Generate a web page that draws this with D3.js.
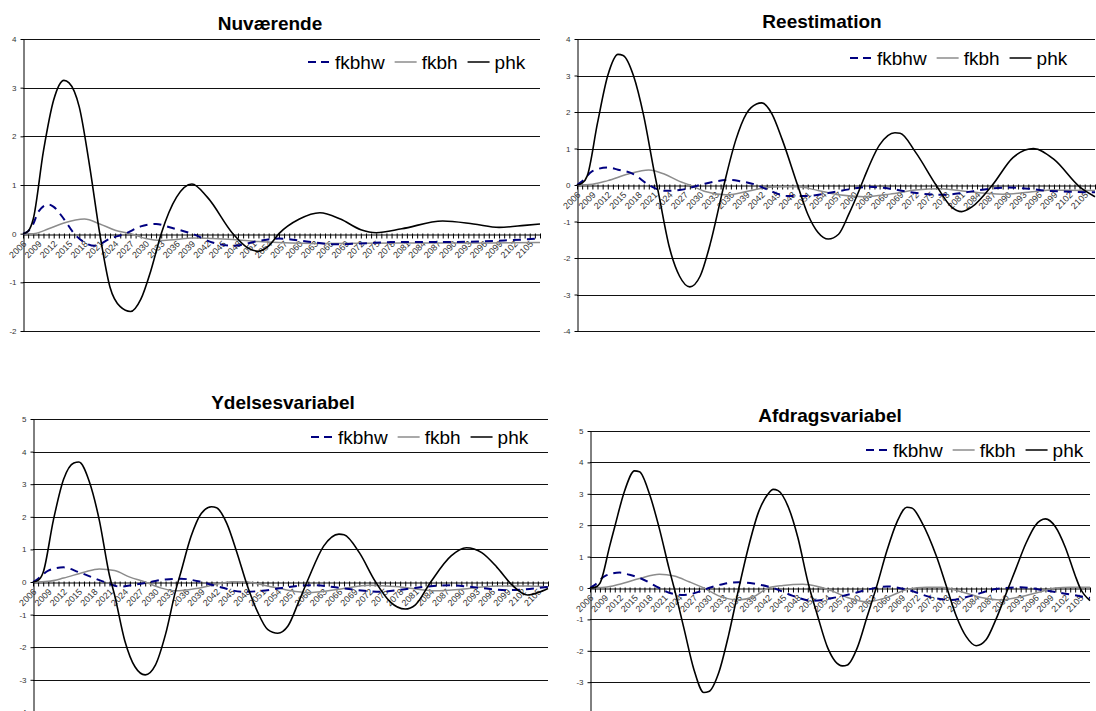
<!DOCTYPE html>
<html><head><meta charset="utf-8">
<script src="https://cdn.jsdelivr.net/npm/d3@7/dist/d3.min.js"></script>
<style>body{margin:0;background:#fff}svg{display:block}text{font-family:"Liberation Sans",Arial,sans-serif}</style>
</head><body><svg id="c" width="1096" height="711"></svg>
<script>
// ---------- data ----------
const years = d3.range(2006, 2108);              // annual categories
const tickLabels = d3.range(2006, 2106, 3);      // labelled every 3rd year
const seriesNames = ["fkbhw", "fkbh", "phk"];
const titles = ["Nuværende", "Reestimation", "Ydelsesvariabel", "Afdragsvariabel"];

// Nuværende
const nuv_phk = [[2006,0],[2007,0.05],[2008,0.3],[2010,1.7],[2012,2.75],[2014,3.15],[2015,3.1],[2017,2.6],[2019,1.4],[2021,0],[2023,-1.1],[2025,-1.5],[2027,-1.6],[2029,-1.35],[2031,-0.75],[2033,0],[2036,0.75],[2039,1.02],[2042,0.75],[2047,0],[2050,-0.3],[2052,-0.36],[2054,-0.25],[2056,0],[2060,0.3],[2064,0.43],[2068,0.3],[2072,0.08],[2075,0.02],[2080,0.1],[2088,0.26],[2094,0.2],[2099,0.13],[2104,0.17],[2107,0.2]];
const nuv_fkbhw = [[2006,0],[2007,0.05],[2008,0.2],[2009,0.45],[2011,0.6],[2012,0.55],[2014,0.3],[2016,0],[2018,-0.18],[2020,-0.25],[2023,-0.1],[2026,0],[2029,0.15],[2032,0.2],[2035,0.12],[2039,0],[2043,-0.18],[2047,-0.25],[2052,-0.15],[2056,-0.1],[2060,-0.14],[2067,-0.22],[2072,-0.2],[2080,-0.17],[2090,-0.17],[2100,-0.14],[2107,-0.1]];
const nuv_fkbh = [[2006,0],[2008,0],[2011,0.1],[2014,0.22],[2018,0.3],[2021,0.2],[2024,0.07],[2027,0],[2030,-0.1],[2033,-0.14],[2036,-0.12],[2039,-0.09],[2043,-0.1],[2047,-0.12],[2052,-0.16],[2056,-0.18],[2065,-0.2],[2080,-0.19],[2095,-0.19],[2107,-0.18]];

// Reestimation
const ree_phk = [[2006,0],[2007,0.05],[2008,0.25],[2010,1.7],[2012,3.0],[2014,3.58],[2015,3.55],[2017,3.0],[2019,1.9],[2021,0.4],[2022,-0.3],[2024,-1.7],[2026,-2.5],[2028,-2.79],[2030,-2.5],[2032,-1.6],[2034,-0.4],[2035,0.2],[2037,1.25],[2039,1.95],[2041,2.22],[2042,2.25],[2044,1.95],[2046,1.25],[2049,0],[2051,-0.8],[2053,-1.3],[2055,-1.48],[2057,-1.35],[2059,-0.8],[2061,-0.15],[2062,0.2],[2065,1.1],[2068,1.43],[2069,1.42],[2072,0.9],[2076,0],[2079,-0.6],[2081,-0.73],[2083,-0.6],[2087,0],[2091,0.75],[2095,1.0],[2099,0.7],[2104,-0.05],[2107,-0.32]];
const ree_fkbhw = [[2006,0],[2007,0.1],[2009,0.38],[2012,0.48],[2014,0.42],[2017,0.3],[2020,0],[2023,-0.16],[2026,-0.14],[2030,0],[2033,0.1],[2036,0.14],[2038,0.1],[2041,0],[2044,-0.18],[2047,-0.3],[2051,-0.3],[2055,-0.22],[2059,-0.12],[2063,-0.05],[2067,-0.1],[2071,-0.2],[2077,-0.27],[2081,-0.22],[2085,-0.13],[2090,-0.07],[2094,-0.1],[2098,-0.16],[2107,-0.2]];
const ree_fkbh = [[2006,0],[2009,0.02],[2012,0.12],[2016,0.3],[2020,0.41],[2023,0.3],[2026,0.1],[2028,0],[2031,-0.18],[2035,-0.27],[2039,-0.18],[2042,-0.09],[2046,-0.05],[2049,-0.05],[2053,-0.15],[2057,-0.27],[2062,-0.32],[2067,-0.25],[2072,-0.14],[2077,-0.1],[2082,-0.18],[2089,-0.25],[2094,-0.2],[2099,-0.14],[2107,-0.15]];

// Ydelsesvariabel
const yde_phk = [[2006,0],[2007,0.05],[2008,0.3],[2010,1.9],[2012,3.15],[2014,3.65],[2015,3.68],[2017,3.1],[2019,1.9],[2021,0.2],[2022,-0.4],[2024,-1.8],[2026,-2.6],[2028,-2.85],[2030,-2.55],[2032,-1.6],[2034,-0.25],[2035,0.3],[2037,1.4],[2039,2.1],[2041,2.31],[2042,2.28],[2044,1.8],[2046,0.9],[2048,-0.1],[2050,-0.9],[2052,-1.45],[2054,-1.57],[2056,-1.35],[2058,-0.65],[2060,0.1],[2063,1.1],[2066,1.47],[2067,1.45],[2070,0.9],[2073,0.05],[2076,-0.6],[2079,-0.83],[2081,-0.7],[2084,0],[2088,0.8],[2091,1.05],[2094,0.9],[2097,0.45],[2100,-0.1],[2103,-0.4],[2105,-0.33],[2107,-0.2]];
const yde_fkbhw = [[2006,0],[2007,0.1],[2009,0.35],[2012,0.45],[2015,0.3],[2020,0],[2023,-0.14],[2026,-0.08],[2029,0],[2032,0.08],[2035,0.1],[2039,0],[2043,-0.17],[2047,-0.3],[2051,-0.27],[2054,-0.2],[2058,-0.12],[2061,-0.1],[2066,-0.18],[2071,-0.27],[2074,-0.3],[2079,-0.22],[2084,-0.13],[2088,-0.1],[2093,-0.17],[2099,-0.25],[2107,-0.15]];
const yde_fkbh = [[2006,0],[2009,0.02],[2012,0.12],[2016,0.3],[2019,0.4],[2022,0.35],[2025,0.15],[2028,0],[2031,-0.18],[2034,-0.27],[2038,-0.2],[2042,-0.07],[2045,0.01],[2048,0],[2052,-0.12],[2056,-0.25],[2060,-0.32],[2066,-0.22],[2072,-0.1],[2078,-0.15],[2085,-0.27],[2090,-0.22],[2097,-0.12],[2103,-0.12],[2107,-0.15]];

// Afdragsvariabel
const afd_phk = [[2006,0],[2007,0.02],[2008,0.15],[2010,1.35],[2011,1.95],[2013,3.1],[2015,3.73],[2016,3.7],[2018,3.0],[2020,1.9],[2022,0.6],[2023,0],[2025,-1.3],[2027,-2.6],[2029,-3.33],[2030,-3.3],[2032,-2.7],[2034,-1.5],[2036,-0.05],[2038,1.3],[2040,2.4],[2042,3.0],[2043,3.14],[2044,3.1],[2046,2.6],[2048,1.6],[2050,0.2],[2052,-0.9],[2054,-1.9],[2057,-2.48],[2058,-2.45],[2060,-1.9],[2062,-0.9],[2064,0.1],[2066,1.2],[2068,2.1],[2070,2.57],[2071,2.55],[2073,2.1],[2076,1.0],[2078,0.05],[2080,-0.9],[2082,-1.55],[2084,-1.84],[2086,-1.65],[2088,-1.0],[2090,-0.2],[2092,0.6],[2094,1.4],[2096,2.0],[2098,2.2],[2100,1.95],[2102,1.3],[2104,0.4],[2105,0],[2107,-0.4]];
const afd_fkbhw = [[2006,0],[2007,0.1],[2009,0.38],[2012,0.49],[2014,0.42],[2016,0.32],[2020,0],[2022,-0.15],[2025,-0.22],[2028,-0.12],[2030,0],[2033,0.13],[2036,0.18],[2039,0.14],[2043,0],[2047,-0.25],[2051,-0.41],[2055,-0.32],[2059,-0.18],[2063,-0.02],[2066,0.05],[2070,-0.05],[2075,-0.3],[2079,-0.38],[2083,-0.25],[2088,-0.03],[2093,0.02],[2098,-0.08],[2102,-0.18],[2107,-0.32]];
const afd_fkbh = [[2006,0],[2009,0.02],[2012,0.12],[2016,0.3],[2020,0.44],[2023,0.38],[2026,0.2],[2029,0],[2032,-0.25],[2036,-0.38],[2039,-0.28],[2042,0],[2045,0.08],[2049,0.12],[2052,0.05],[2055,-0.1],[2058,-0.3],[2062,-0.44],[2066,-0.3],[2070,-0.05],[2074,0.02],[2077,0.02],[2081,-0.12],[2085,-0.3],[2089,-0.38],[2093,-0.28],[2097,-0.12],[2100,0],[2103,0.02],[2107,0.02]];

const panelData = [
  {fkbhw: nuv_fkbhw, fkbh: nuv_fkbh, phk: nuv_phk, yMin: -2, yMax: 4},
  {fkbhw: ree_fkbhw, fkbh: ree_fkbh, phk: ree_phk, yMin: -4, yMax: 4},
  {fkbhw: yde_fkbhw, fkbh: yde_fkbh, phk: yde_phk, yMin: -4, yMax: 5},
  {fkbhw: afd_fkbhw, fkbh: afd_fkbh, phk: afd_phk, yMin: -4, yMax: 5}
];

// ---------- layout & style ----------
const layout = [
  {L: 23,  R: 540,  T: 39,  B: 331,   tx: 270, ty: 30,  lx: 308, ly: 62},
  {L: 577, R: 1095, T: 39,  B: 331,   tx: 822, ty: 28,  lx: 850, ly: 58},
  {L: 33,  R: 548,  T: 419, B: 712.4, tx: 283, ty: 409, lx: 311, ly: 437},
  {L: 590, R: 1090, T: 431, B: 713.6, tx: 830, ty: 422, lx: 866, ly: 450}
];
const styles = {
  fkbhw: {stroke: "#000080", width: 2, dash: "8,6"},
  fkbh:  {stroke: "#8c8c8c", width: 1.5, dash: null},
  phk:   {stroke: "#000000", width: 1.6, dash: null}
};
const fmtInt = d => String(d);   // plain hyphen minus, like the original

const svg = d3.select("#c");

panelData.forEach((pd, i) => {
  const lo = layout[i];
  const g = svg.append("g");
  const x = d3.scaleLinear().domain([2006, 2107]).range([lo.L, lo.R]);
  const y = d3.scaleLinear().domain([pd.yMin, pd.yMax]).range([lo.B, lo.T]);
  const yTicks = d3.range(pd.yMin, pd.yMax + 1);

  // gridlines
  g.append("g").selectAll("line").data(yTicks.filter(v => v !== 0)).join("line")
    .attr("x1", lo.L).attr("x2", lo.R)
    .attr("y1", d => Math.round(y(d)) + 0.5).attr("y2", d => Math.round(y(d)) + 0.5)
    .attr("stroke", "#111").attr("stroke-width", 1);

  // y axis
  const ya = g.append("g").attr("transform", `translate(${Math.round(lo.L) + 0.5},0)`)
    .call(d3.axisLeft(y).tickValues(yTicks).tickSize(3).tickSizeOuter(0).tickFormat(fmtInt));
  ya.select(".domain").attr("stroke", "#000");
  ya.selectAll(".tick line").attr("stroke", "#000");
  ya.selectAll("text").attr("font-size", 8).attr("fill", "#333").attr("font-family", "Liberation Sans, Arial, sans-serif").attr("x", -7);

  // x axis at zero
  const y0 = Math.round(y(0)) + 0.5;
  const xa = g.append("g").attr("transform", `translate(0,${y0})`)
    .call(d3.axisBottom(x).tickValues(years).tickSize(4).tickSizeOuter(0).tickFormat(""));
  xa.select(".domain").attr("stroke", "#000");
  xa.selectAll(".tick line").attr("stroke", "#000").attr("y1", -1);

  g.append("g").selectAll("text").data(tickLabels).join("text")
    .attr("transform", d => `translate(${x(d) + 4},${y0 + 10}) rotate(-45)`)
    .attr("text-anchor", "end").attr("font-size", 9).attr("fill", "#333")
    .text(d => d);

  // series
  ["fkbh", "fkbhw", "phk"].forEach(name => {
    const st = styles[name];
    g.append("path").datum(pd[name])
      .attr("fill", "none").attr("stroke", st.stroke).attr("stroke-width", st.width)
      .attr("stroke-dasharray", st.dash)
      .attr("d", d3.line().x(d => x(d[0])).y(d => y(d[1])).curve(d3.curveMonotoneX));
  });

  // title
  g.append("text").attr("x", lo.tx).attr("y", lo.ty).attr("text-anchor", "middle")
    .attr("font-size", 19).attr("font-weight", "bold").attr("fill", "#000").text(titles[i]);

  // legend
  let cx = lo.lx;
  seriesNames.forEach(name => {
    const st = styles[name];
    g.append("line").attr("x1", cx).attr("x2", cx + 22).attr("y1", lo.ly).attr("y2", lo.ly)
      .attr("stroke", st.stroke).attr("stroke-width", name === "fkbhw" ? 2 : 1.5)
      .attr("stroke-dasharray", name === "fkbhw" ? "8,5" : null);
    const t = g.append("text").attr("x", cx + 27).attr("y", lo.ly + 7).attr("font-size", 19)
      .attr("fill", "#000").text(name);
    cx += 27 + t.node().getComputedTextLength() + 10;
  });
});
</script></body></html>
